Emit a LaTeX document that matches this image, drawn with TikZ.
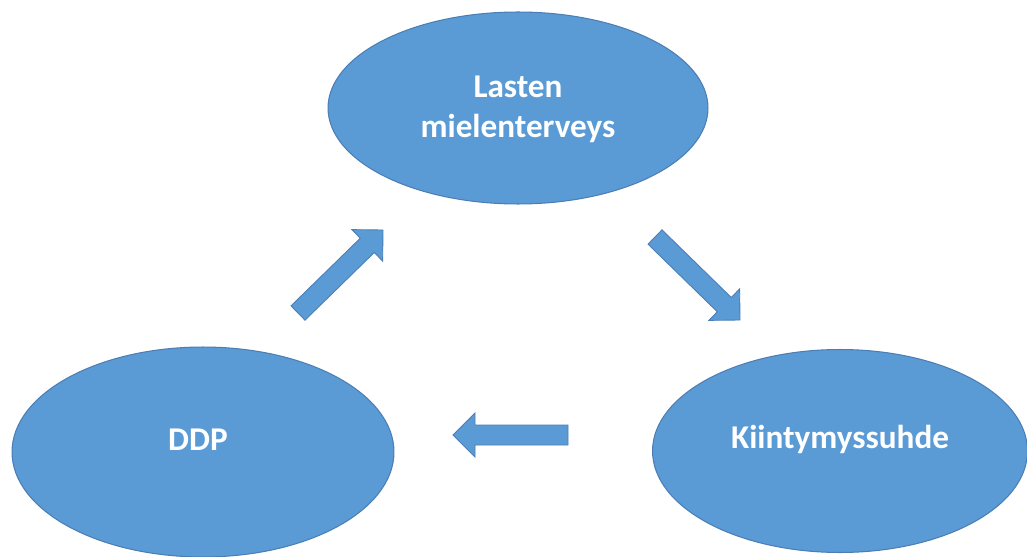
\documentclass[tikz,border=0pt]{standalone}
\usepackage{fontspec}
\setmainfont{Carlito}
\usetikzlibrary{shapes.geometric,calc}
\definecolor{ofblue}{HTML}{5B9BD5}
\definecolor{ofedge}{HTML}{4A7EB5}
\newcommand\blockarrow[2]{%
  \coordinate (hb) at ($(#2)!0.44cm!(#1)$);
  \draw[blockarr] ($(#1)!0.2cm!90:(#2)$) -- ($(hb)!0.2cm!-90:(#1)$) -- ($(hb)!0.44cm!-90:(#1)$) -- (#2)
    -- ($(hb)!0.44cm!90:(#1)$) -- ($(hb)!0.2cm!90:(#1)$) -- ($(#1)!0.2cm!-90:(#2)$) -- cycle;}
\begin{document}
\begin{tikzpicture}[x=0.02cm,y=-0.02cm,
  blob/.style={ellipse,fill=ofblue,draw=ofedge,line width=0.6pt,inner sep=0pt},
  lbl/.style={text=white,font=\fontsize{18.9}{22.7}\selectfont\bfseries,align=center,inner sep=0pt},
  blockarr/.style={fill=ofblue,draw=ofedge,line width=0.5pt,line join=miter}]
\useasboundingbox[fill=white] (0,0) rectangle (1027,557);
\node[blob,minimum width=7.6cm,minimum height=3.84cm] (top) at (518,108) {};
\node[blob,minimum width=7.64cm,minimum height=4.2cm] (ddp) at (203,452) {};
\node[blob,minimum width=7.5cm,minimum height=4.06cm] (kii) at (840,451) {};
\node[lbl] (toptxt) at ($(top.center)+(0,1)$) {Lasten\\mielenterveys};
\node[lbl] (ddptxt) at ($(ddp.center)+(-5,-12)$) {DDP};
\node[lbl] (kiitxt) at ($(kii.center)+(0,-12)$) {Kiintymyssuhde};
\coordinate (a1s) at (298,313);
\coordinate (a1e) at (383,230);
\coordinate (a2s) at (655,237);
\coordinate (a2e) at (740,320);
\coordinate (a3s) at (568,435);
\coordinate (a3e) at (453,435);
\blockarrow{a1s}{a1e}
\blockarrow{a2s}{a2e}
\blockarrow{a3s}{a3e}
\end{tikzpicture}
\end{document}
